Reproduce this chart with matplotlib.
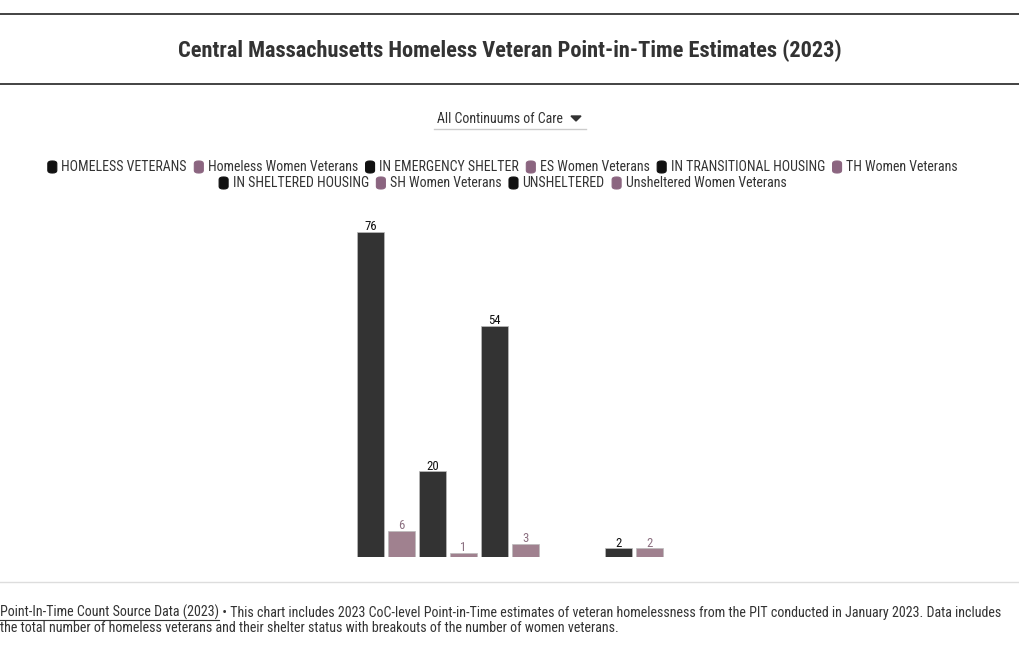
import matplotlib
matplotlib.use("Agg")
import matplotlib.pyplot as plt
from matplotlib.patches import FancyBboxPatch, Polygon
from matplotlib.lines import Line2D

# ---- data ----
series_names = ["HOMELESS VETERANS", "Homeless Women Veterans",
                "IN EMERGENCY SHELTER", "ES Women Veterans",
                "IN TRANSITIONAL HOUSING", "TH Women Veterans",
                "IN SHELTERED HOUSING", "SH Women Veterans",
                "UNSHELTERED", "Unsheltered Women Veterans"]
series_values = [76, 6, 20, 1, 54, 3, 0, 0, 2, 2]
is_women = [False, True, False, True, False, True, False, True, False, True]

title = "Central Massachusetts Homeless Veteran Point-in-Time Estimates (2023)"
dropdown_label = "All Continuums of Care"
source_link = "Point-In-Time Count Source Data (2023)"
footer_rest = (" \u2022 This chart includes 2023 CoC-level Point-in-Time estimates of veteran "
               "homelessness from the PIT conducted in January 2023. Data includes")
footer_line2 = ("the total number of homeless veterans and their shelter status with "
                "breakouts of the number of women veterans.")

DARK_BAR = "#333333"
WOMEN_BAR = "#a0818f"
DARK_LEG = "#111111"
WOMEN_LEG = "#8b6580"
WOMEN_LBL = "#8b6f80"

FONT = ["Roboto Condensed", "Liberation Sans Narrow", "Roboto", "DejaVu Sans"]
plt.rcParams["font.family"] = FONT

W, H = 1020, 650
fig = plt.figure(figsize=(W / 100, H / 100), dpi=100)
fig.patch.set_facecolor("white")


def fx(px):
    return px / W


def fy(py):
    return 1 - py / H


# header lines
fig.add_artist(Line2D([0, 1], [fy(14), fy(14)], color="#222222", lw=1.2))
fig.add_artist(Line2D([0, 1], [fy(84), fy(84)], color="#222222", lw=1.2))
fig.text(0.5, fy(50.5), title, ha="center", va="center", fontsize=16.1,
         fontweight="bold", color="#333333")

# dropdown
fig.text(fx(500), fy(119), dropdown_label, ha="center", va="center",
         fontsize=10, color="#333333")
fig.add_artist(Line2D([fx(434), fx(586)], [fy(128.5), fy(128.5)], color="#cccccc", lw=1))
fig.add_artist(Polygon([[fx(571), fy(116)], [fx(581), fy(116)], [fx(576), fy(121)]],
                       closed=True, color="#333333", transform=fig.transFigure))

# legend (flow layout, centered rows)
fig.canvas.draw()
renderer = fig.canvas.get_renderer()
leg_fs = 10
rows = [list(range(0, 6)), list(range(6, 10))]
row_y = [167, 183]
leg_center = 502.5
sq_w, sq_h = 10, 13
gap_sq = 4
gap_item = 7
for r, idxs in enumerate(rows):
    widths = []
    for i in idxs:
        t = fig.text(0, 0, series_names[i], fontsize=leg_fs)
        bb = t.get_window_extent(renderer)
        t.remove()
        widths.append(sq_w + gap_sq + bb.width)
    total = sum(widths) + gap_item * (len(widths) - 1)
    x = leg_center - total / 2
    y = row_y[r]
    for i, wdt in zip(idxs, widths):
        col = WOMEN_LEG if is_women[i] else DARK_LEG
        fig.add_artist(FancyBboxPatch((fx(x + 0.5), fy(y + sq_h / 2 - 0.5)), fx(sq_w - 1),
                                      (sq_h - 1) / H,
                                      boxstyle="round,pad=0,rounding_size=0.004",
                                      transform=fig.transFigure, facecolor=col,
                                      edgecolor=col, lw=0.8))
        fig.text(fx(x + sq_w + gap_sq), fy(y), series_names[i], ha="left", va="center",
                 fontsize=leg_fs, color="#333333")
        x += wdt + gap_item

# bars
ax_left, ax_right = 355, 665
base_y, top_units = 557, 80
px_per_unit = (557 - 232) / 76
ax_h = top_units * px_per_unit
ax = fig.add_axes([fx(ax_left), fy(base_y), fx(ax_right - ax_left), ax_h / H])
ax.set_xlim(-0.5, len(series_values) - 0.5)
ax.set_ylim(0, top_units)
ax.axis("off")
xs = list(range(len(series_values)))
colors = [WOMEN_BAR if w else DARK_BAR for w in is_women]
bars = ax.bar(xs, series_values, width=27 / 31, color=colors,
              edgecolor="#bbbbbb", linewidth=0.5)
for b, v, w in zip(bars, series_values, is_women):
    if v == 0:
        continue
    ax.annotate(str(v), (b.get_x() + b.get_width() / 2, v), xytext=(0, -0.8),
                textcoords="offset points", ha="center", va="bottom",
                fontsize=9.2, color=WOMEN_LBL if w else "#111111")

# footer
fig.add_artist(Line2D([0, 1], [fy(582), fy(582)], color="#dddddd", lw=1))
ft_fs = 10.1
t1 = fig.text(0, fy(612.5), source_link, ha="left", va="center", fontsize=ft_fs, color="#333333")
bb = t1.get_window_extent(renderer)
fig.add_artist(Line2D([0, bb.width / W], [fy(620), fy(620)], color="#333333", lw=0.8))
fig.text(bb.width / W, fy(612.5), footer_rest, ha="left", va="center", fontsize=ft_fs,
         color="#333333")
fig.text(0, fy(628.5), footer_line2, ha="left", va="center", fontsize=ft_fs, color="#333333")

fig.savefig("out.png", dpi=100, facecolor="white")
